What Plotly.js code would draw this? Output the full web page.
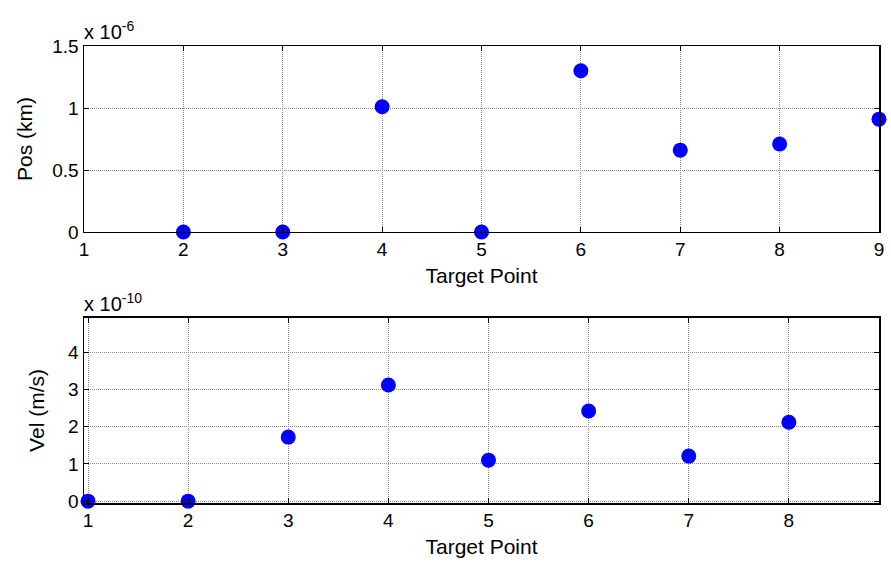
<!DOCTYPE html>
<html><head><meta charset="utf-8">
<script src="https://cdn.plot.ly/plotly-3.0.1.min.js"></script>
<style>html,body{margin:0;padding:0;background:#fff}#chart{width:891px;height:571px}</style>
</head><body><div id="chart"></div>
<script>
const posPoints = [2, 3, 4, 5, 6, 7, 8, 9];
const posValues = [0, 0, 1.01e-6, 0, 1.30e-6, 0.66e-6, 0.71e-6, 0.91e-6];
const velPoints = [1, 2, 3, 4, 5, 6, 7, 8];
const velValues = [0, 0, 1.72e-10, 3.12e-10, 1.10e-10, 2.42e-10, 1.21e-10, 2.12e-10];
const posTicks = [0, 0.5e-6, 1e-6, 1.5e-6];
const posTickText = ['0', '0.5', '1', '1.5'];
const velTicks = [0, 1e-10, 2e-10, 3e-10, 4e-10];
const velTickText = ['0', '1', '2', '3', '4'];
const xTitle = 'Target Point';
const posTitle = 'Pos (km)';
const velTitle = 'Vel (m/s)';

const font = {family: 'Liberation Sans, Arial, sans-serif', size: 18, color: '#000'};
const markerStyle = {color: '#0000ff', size: 15};
const axisCommon = {
  showline: true, linecolor: '#000', linewidth: 1.5, mirror: 'ticks',
  ticks: 'inside', ticklen: 5, tickcolor: '#000',
  showgrid: true, gridcolor: '#8a8a8a', gridwidth: 1, griddash: '1px,1px',
  zeroline: false, tickfont: {size: 19}
};

const data = [
  {x: posPoints, y: posValues, mode: 'markers', type: 'scatter', marker: markerStyle, xaxis: 'x', yaxis: 'y', cliponaxis: false},
  {x: velPoints, y: velValues, mode: 'markers', type: 'scatter', marker: markerStyle, xaxis: 'x2', yaxis: 'y2', cliponaxis: false}
];

const layout = {
  width: 891, height: 571,
  margin: {l: 84, r: 12, t: 46, b: 68},
  paper_bgcolor: '#fff', plot_bgcolor: '#fff',
  font: font, showlegend: false,
  xaxis: Object.assign({}, axisCommon, {domain: [0, 1], anchor: 'y', range: [1, 9], dtick: 1,
    title: {text: xTitle, standoff: 9, font: {size: 21}}}),
  yaxis: Object.assign({}, axisCommon, {domain: [0.593, 1], anchor: 'x', range: [0, 1.5e-6],
    tickvals: posTicks, ticktext: posTickText,
    title: {text: posTitle, standoff: 14, font: {size: 21}}}),
  xaxis2: Object.assign({}, axisCommon, {domain: [0, 1], anchor: 'y2', range: [0.96, 8.9], dtick: 1,
    title: {text: xTitle, standoff: 9, font: {size: 21}}}),
  yaxis2: Object.assign({}, axisCommon, {domain: [0, 0.405], anchor: 'x2', range: [-0.05e-10, 4.92e-10],
    tickvals: velTicks, ticktext: velTickText,
    title: {text: velTitle, standoff: 18, font: {size: 21}}}),
  annotations: [
    {text: 'x 10<sup>-6</sup>', xref: 'paper', yref: 'paper', x: 0, y: 1, xanchor: 'left', yanchor: 'bottom', showarrow: false, font: {size: 20}, xshift: -2, yshift: 1},
    {text: 'x 10<sup>-10</sup>', xref: 'paper', yref: 'paper', x: 0, y: 0.405, xanchor: 'left', yanchor: 'bottom', showarrow: false, font: {size: 20}, xshift: -2, yshift: 1}
  ]
};

Plotly.newPlot('chart', data, layout, {displayModeBar: false, staticPlot: true});
</script></body></html>
